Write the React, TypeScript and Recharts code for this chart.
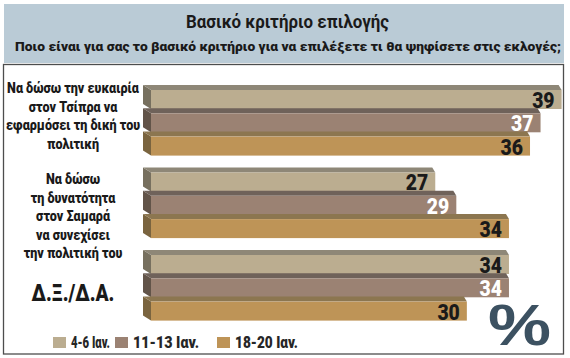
import { BarChart, Bar, XAxis, YAxis, LabelList } from "recharts";

const categories = ["tsipras", "samaras", "dxda"];
const categoryLines = [
  ["Να δώσω την ευκαιρία", "στον Τσίπρα να", "εφαρμόσει τη δική του", "πολιτική"],
  ["Να δώσω", "τη δυνατότητα", "στον Σαμαρά", "να συνεχίσει", "την πολιτική του"],
  ["Δ.Ξ./Δ.Α."],
];
const seriesNames = ["4-6 Ιαν.", "11-13 Ιαν.", "18-20 Ιαν."];
const jan4to6 = [39, 27, 34];
const jan11to13 = [37, 29, 34];
const jan18to20 = [36, 34, 30];

const title = "Βασικό κριτήριο επιλογής";
const subtitle = "Ποιο είναι για σας το βασικό κριτήριο για να επιλέξετε τι θα ψηφίσετε στις εκλογές;";

const data = categories.map((name, i) => ({
  name,
  a: jan4to6[i],
  b: jan11to13[i],
  c: jan18to20[i],
}));

// face / top strip / left side colours per series
const palette = [
  { face: "#bbad90", top: "#8e8777", side: "#77705f", label: "#1a1a1a" },
  { face: "#9b8273", top: "#6f625a", side: "#625449", label: "#ffffff" },
  { face: "#be9457", top: "#8c7650", side: "#7a643f", label: "#1a1a1a" },
];

const font = "Roboto, 'Liberation Sans', Arial, sans-serif";

const tickShift = [-7.5, 10, 5];

function CategoryTick(props: any) {
  const { y, payload } = props;
  const idx = categories.indexOf(payload.value);
  const lines = categoryLines[idx] || [];
  const big = lines.length === 1;
  const lh = 18.5;
  const cy = y + tickShift[idx];
  const start = cy - ((lines.length - 1) * lh) / 2;
  return (
    <g transform={`translate(73, 0) scale(0.84, 1)`}>
      <text
        textAnchor="middle"
        fill="#1a1a1a"
        style={{ fontFamily: font, fontWeight: 900, fontSize: big ? 23 : 15 }}
      >
        {lines.map((l, i) => (
          <tspan key={i} x={0} y={start + i * lh} dominantBaseline="central">
            {l}
          </tspan>
        ))}
      </text>
    </g>
  );
}

function bar3d(p: { face: string; top: string; side: string }) {
  return (props: any) => {
    const { x, y, width, height } = props;
    if (!width || width <= 0) return <g />;
    const dx = 8;
    const dy = 5;
    const r = x + width;
    return (
      <g>
        <polygon
          points={`${x - dx},${y - dy} ${x},${y} ${x},${y + height} ${x - dx},${y + height - dy}`}
          fill={p.side}
        />
        <polygon
          points={`${x - dx},${y - dy} ${r - 3},${y - dy} ${r},${y} ${x},${y}`}
          fill={p.top}
        />
        <rect x={x} y={y} width={width} height={height} fill={p.face} />
      </g>
    );
  };
}

function valueLabel(color: string) {
  return (props: any) => {
    const vb = props.viewBox || props;
    const x = vb.x ?? props.x;
    const y = vb.y ?? props.y;
    const w = vb.width ?? props.width;
    const h = vb.height ?? props.height;
    return (
      <g transform={`translate(${x + w - 7}, ${y + h / 2 + 1}) scale(0.88, 1)`}>
        <text
          x={0}
          y={0}
          textAnchor="end"
          dominantBaseline="central"
          fill={color}
          style={{ fontFamily: font, fontWeight: 900, fontSize: 22 }}
        >
          {props.value}
        </text>
      </g>
    );
  };
}

const keys = ["a", "b", "c"];
const legendX = [53, 115, 217];
const legendTextW = [39, 66, 63];

export default function App() {
  return (
    <div
      style={{
        position: "absolute",
        left: 0,
        top: 0,
        width: 570,
        height: 358,
        background: "#ffffff",
      }}
    >
      <svg width={570} height={358} style={{ position: "absolute", left: 0, top: 0 }}>
        <rect x={4} y={4} width={560} height={59} fill="#bacbd6" />
        <text
          x={186}
          y={28}
          textLength={203}
          lengthAdjust="spacingAndGlyphs"
          fill="#1a1a1a"
          style={{ fontFamily: font, fontWeight: 700, fontSize: 18.5 }}
        >
          {title}
        </text>
        <text
          x={15}
          y={51}
          textLength={546}
          lengthAdjust="spacingAndGlyphs"
          fill="#1a1a1a"
          style={{ fontFamily: font, fontWeight: 900, fontSize: 13.5 }}
        >
          {subtitle}
        </text>
        <rect x={3.5} y={64.5} width={560} height={289.5} fill="none" stroke="#4d4d4d" strokeWidth={1.3} />
        {seriesNames.map((n, i) => (
          <g key={n}>
            <rect x={legendX[i]} y={337} width={13} height={11} fill={palette[i].face} />
            <text
              x={legendX[i] + 18}
              y={348}
              textLength={legendTextW[i]}
              lengthAdjust="spacingAndGlyphs"
              fill="#262626"
              style={{ fontFamily: font, fontWeight: 900, fontSize: 16 }}
            >
              {n}
            </text>
          </g>
        ))}
        <text
          x={488}
          y={345}
          textLength={63}
          lengthAdjust="spacingAndGlyphs"
          fill="#3c5161"
          style={{ fontFamily: "'Liberation Sans', Arial, sans-serif", fontWeight: 700, fontSize: 58 }}
        >
          %
        </text>
      </svg>
      <div style={{ position: "absolute", left: 0, top: 0 }}>
        <BarChart
          width={570}
          height={358}
          data={data}
          layout="vertical"
          margin={{ top: 82, right: 8.4, bottom: 28.5, left: 0 }}
          barSize={19}
          barGap={4.3}
        >
          <XAxis type="number" domain={[0, 39]} hide />
          <YAxis
            type="category"
            dataKey="name"
            width={151}
            axisLine={false}
            tickLine={false}
            tick={<CategoryTick />}
          />
          {keys.map((k, i) => (
            <Bar
              key={k}
              dataKey={k}
              name={seriesNames[i]}
              fill={palette[i].face}
              shape={bar3d(palette[i])}
              isAnimationActive={false}
            >
              <LabelList dataKey={k} content={valueLabel(palette[i].label)} />
            </Bar>
          ))}
        </BarChart>
      </div>
    </div>
  );
}
